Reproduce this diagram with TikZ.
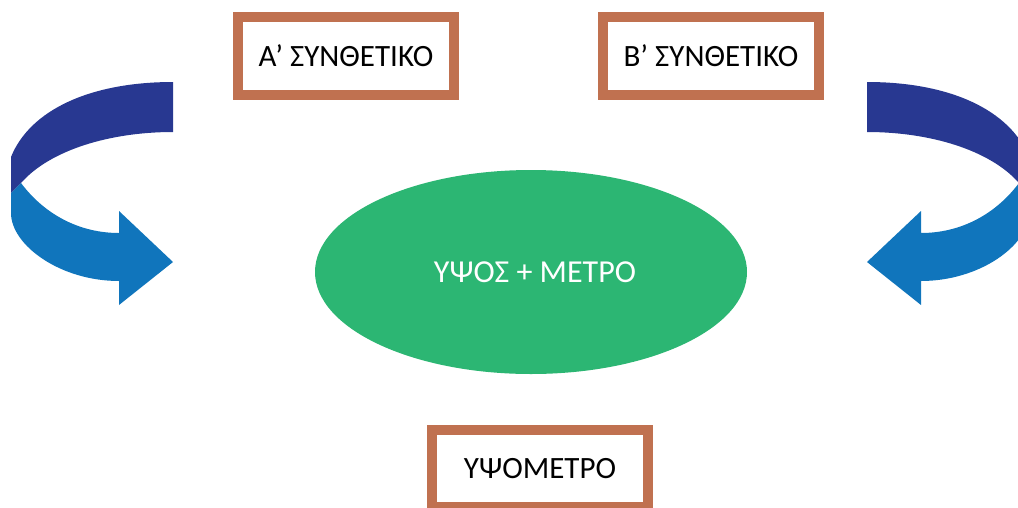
\documentclass[tikz,border=0pt]{standalone}
\usepackage{fontspec}
\setmainfont{Carlito}
\usepackage{tikz}
\usetikzlibrary{shapes.geometric}
\definecolor{qqbbll}{RGB}{44,182,115}
\definecolor{ccllee}{RGB}{192,113,80}
\definecolor{ddqqaa}{RGB}{40,56,145}
\definecolor{qqllcc}{RGB}{16,117,188}

\begin{document}
\begin{tikzpicture}[x=1pt,y=-1pt,line join=miter,
	frame/.style={draw=ccllee,line width=10pt,fill=white,minimum width=216pt,minimum height=78pt,inner sep=0pt,font=\fontsize{31}{37}\selectfont},
	cloud/.style={ellipse,fill=qqbbll,minimum width=432pt,minimum height=204pt,text=white,font=\fontsize{32}{38}\selectfont}]
	\useasboundingbox (0,0) rectangle (1018,507);
	\clip (0,0) rectangle (1018,507);
	
	\node[frame] (a) at (346,56) {Α’ ΣΥΝΘΕΤΙΚΟ};
	\node[frame] (b) at (711,56) {Β’ ΣΥΝΘΕΤΙΚΟ};
	\node[cloud] (c) at (531,272) {\hspace*{8pt}ΥΨΟΣ + ΜΕΤΡΟ};
	\node[frame,minimum height=77pt] (y) at (540,468.5) {ΥΨΟΜΕΤΡΟ};
	
	% curved arrows, the right one mirrored
	\foreach \s/\m in {0/1,1040/-1}
	{
	\begin{scope}[shift={(\s,0)},xscale=\m]
		\fill[ddqqaa] (173,82) .. controls (90,82) and (30,110) .. (11,157) -- (11,193) -- (21,183) .. controls (50,150) and (110,132) .. (173,132) -- cycle;
		\fill[qqllcc] (11,193) -- (21,183) .. controls (45,215) and (80,233) .. (119,233) -- (119,211) -- (173,262) -- (119,305) -- (119,281) .. controls (60,281) and (11,245) .. (11,213) -- cycle;
	\end{scope}
	}
\end{tikzpicture}
\end{document}
